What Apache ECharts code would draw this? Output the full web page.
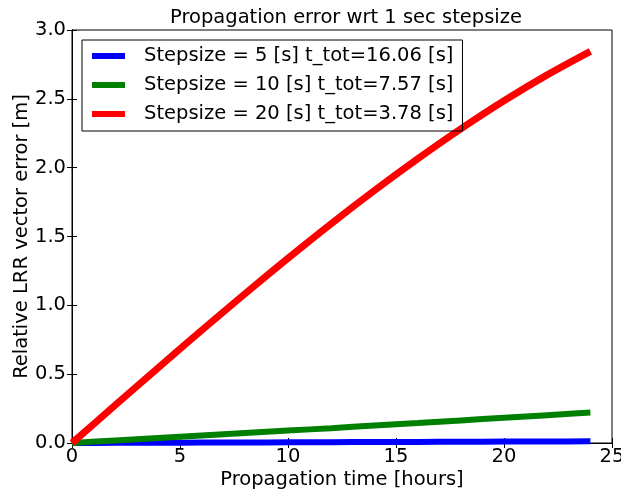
<!DOCTYPE html>
<html>
<head>
<meta charset="utf-8">
<script src="https://cdn.jsdelivr.net/npm/echarts@6/dist/echarts.min.js"></script>
<style>html,body{margin:0;padding:0;background:#fff}#c{width:621px;height:494px}</style>
</head>
<body>
<div id="c"></div>
<script>
const hours = [0, 2, 4, 6, 8, 10, 12, 14, 16, 18, 20, 22, 24];
const step5 = [0, 0.001, 0.002, 0.003, 0.004, 0.005, 0.006, 0.007, 0.008, 0.009, 0.010, 0.011, 0.012];
const step10 = [0, 0.018, 0.036, 0.054, 0.072, 0.090, 0.108, 0.127, 0.145, 0.164, 0.183, 0.202, 0.221];
const step20 = [0, 0.275, 0.548, 0.818, 1.083, 1.342, 1.593, 1.834, 2.064, 2.282, 2.486, 2.674, 2.845];
const seriesNames = ['Stepsize = 5 [s] t_tot=16.06 [s]', 'Stepsize = 10 [s] t_tot=7.57 [s]', 'Stepsize = 20 [s] t_tot=3.78 [s]'];
const xTicks = [0, 5, 10, 15, 20, 25];
const yTicks = [0.0, 0.5, 1.0, 1.5, 2.0, 2.5, 3.0];

const font = 'DejaVu Sans';
const fs = 19.5;
const pair = (xs, ys) => xs.map((x, i) => [x, ys[i]]);
const mkSeries = (name, data, color, w) => ({
  name, type: 'line', data: pair(hours, data), showSymbol: false, symbol: 'none',
  smooth: 0.3, lineStyle: { color, width: w, cap: 'butt' }, itemStyle: { color }, z: 3
});
const tickCommon = { show: true, inside: true, length: 5, lineStyle: { color: '#000', width: 1 } };

const chart = echarts.init(document.getElementById('c'));
chart.setOption({
  animation: false,
  title: { text: 'Propagation error wrt 1 sec stepsize', left: 341, textAlign: 'center', top: 3,
    textStyle: { fontFamily: font, fontSize: fs, fontWeight: 'normal', color: '#000' } },
  grid: { left: 72, right: 9, top: 30, bottom: 51, show: true, borderColor: '#000', borderWidth: 1,
    containLabel: false, outerBoundsMode: 'none' },
  legend: {
    orient: 'vertical', left: 82, top: 40, data: seriesNames,
    icon: 'rect', itemWidth: 33, itemHeight: 6, itemGap: 9,
    borderColor: '#000', borderWidth: 1, padding: [6, 9, 7, 10],
    textStyle: { fontFamily: font, fontSize: fs, color: '#000', padding: [0, 0, 0, 14] }
  },
  xAxis: [
    { type: 'value', min: 0, max: 25, interval: 5, position: 'bottom',
      name: 'Propagation time [hours]', nameLocation: 'middle', nameGap: 27, nameMoveOverlap: false,
      nameTextStyle: { fontFamily: font, fontSize: fs, color: '#000' },
      axisLine: { show: true, lineStyle: { color: '#000' } }, axisTick: tickCommon,
      axisLabel: { fontFamily: font, fontSize: fs, color: '#000', margin: 4 }, splitLine: { show: false } },
    { type: 'value', min: 0, max: 25, interval: 5, position: 'top',
      axisLine: { show: true, lineStyle: { color: '#000' } }, axisTick: tickCommon,
      axisLabel: { show: false }, splitLine: { show: false } }
  ],
  yAxis: [
    { type: 'value', min: 0, max: 3, interval: 0.5, position: 'left',
      name: 'Relative LRR vector error [m]', nameLocation: 'middle', nameGap: 40, nameMoveOverlap: false,
      nameTextStyle: { fontFamily: font, fontSize: fs, color: '#000' },
      axisLine: { show: true, lineStyle: { color: '#000' } }, axisTick: tickCommon,
      axisLabel: { fontFamily: font, fontSize: fs, color: '#000', margin: 6, formatter: v => v.toFixed(1) },
      splitLine: { show: false } },
    { type: 'value', min: 0, max: 3, interval: 0.5, position: 'right',
      axisLine: { show: true, lineStyle: { color: '#000' } }, axisTick: tickCommon,
      axisLabel: { show: false }, splitLine: { show: false } }
  ],
  series: [
    mkSeries(seriesNames[0], step5, '#0000ff', 6),
    mkSeries(seriesNames[1], step10, '#008000', 6),
    mkSeries(seriesNames[2], step20, '#ff0000', 7)
  ]
});
</script>
</body>
</html>
